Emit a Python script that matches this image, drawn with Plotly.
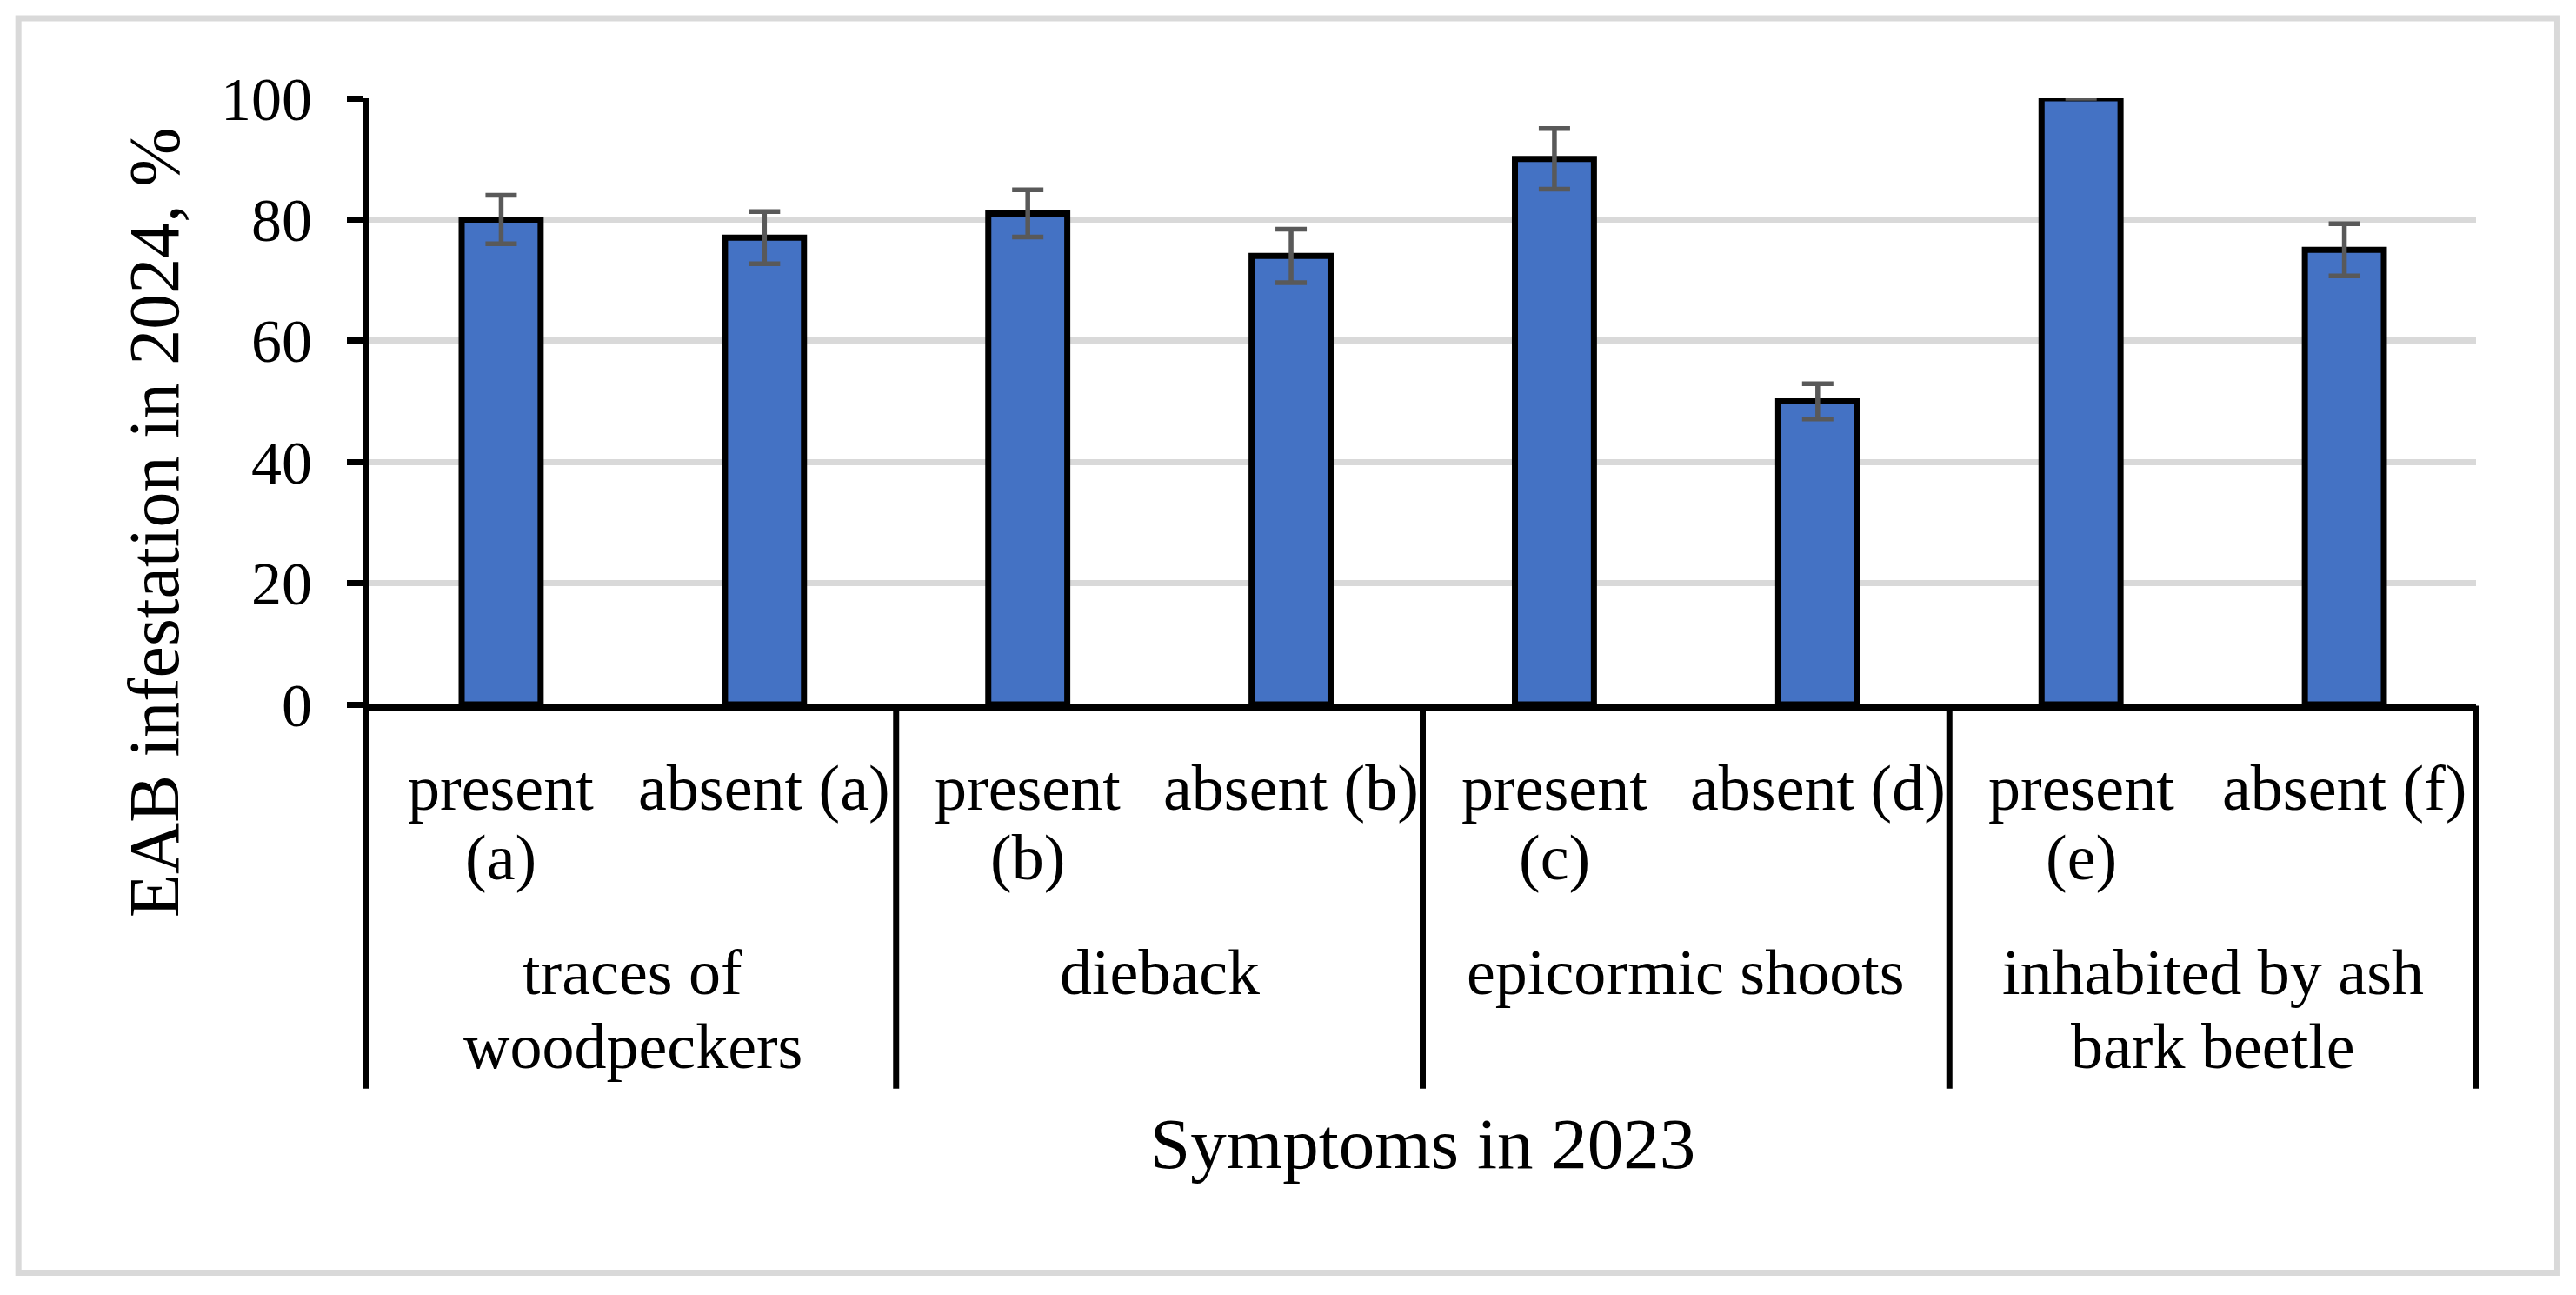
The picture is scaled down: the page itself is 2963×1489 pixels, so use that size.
import plotly.graph_objects as go

# ---------------- data ----------------
categories = ["present (a)", "absent (a)", "present (b)", "absent (b)",
              "present (c)", "absent (d)", "present (e)", "absent (f)"]
tick_labels = ["present<br>(a)", "absent (a)", "present<br>(b)", "absent (b)",
               "present<br>(c)", "absent (d)", "present<br>(e)", "absent (f)"]
groups = ["traces of<br>woodpeckers", "dieback", "epicormic shoots",
          "inhabited by ash<br>bark beetle"]
values = [80, 77, 81, 74, 90, 50, 100, 75]
errors = [4, 4.3, 3.9, 4.4, 5, 2.9, 0, 4.3]
y_ticks = [0, 20, 40, 60, 80, 100]

# ---------------- layout constants ----------------
W, H = 2963, 1489
L, R, T, B = 424.5, 2848.5, 112.5, 810
FONT = "Liberation Serif"
LW = 7


def px_x(X):
    return (X - L) / (R - L)


def px_y(Y):
    return (B - Y) / (B - T)


def mid_from_baseline(yb, fs):
    # centre of the text box for a given baseline (Liberation Serif metrics)
    return yb - 0.3375 * fs


fig = go.Figure()
fig.add_trace(go.Bar(
    x=categories, y=values, width=0.30,
    marker=dict(color="#4472c4", line=dict(color="black", width=LW)),
    error_y=dict(type="data", array=errors, visible=True,
                 color="#595959", thickness=5.5, width=18),
    cliponaxis=False, showlegend=False,
))

shapes = []
n_cat = len(categories)
n_per_group = n_cat // len(groups)
for i in range(len(groups) + 1):
    xp = i * n_per_group / n_cat          # group boundary as a fraction of the axis
    if i == 0:
        xp -= (LW / 2) / (R - L)          # sit under the y-axis line
    shapes.append(dict(type="line", xref="paper", yref="paper",
                       x0=xp, x1=xp, y0=px_y(811.5), y1=px_y(1252),
                       line=dict(color="black", width=LW)))
shapes.append(dict(type="rect", xref="paper", yref="paper",
                   x0=px_x(20.5), x1=px_x(2942), y0=px_y(20.5), y1=px_y(1464),
                   line=dict(color="#d9d9d9", width=LW), layer="below"))

annotations = []
FS_CAT = 74
CAT_BASE = 931
CAT_STEP = 80
for i, lab in enumerate(tick_labels):
    for k, line in enumerate(lab.split("<br>")):
        annotations.append(dict(
            x=i, xref="x", y=px_y(mid_from_baseline(CAT_BASE + k * CAT_STEP, FS_CAT)),
            yref="paper", text=line, showarrow=False,
            xanchor="center", yanchor="middle",
            font=dict(family=FONT, size=FS_CAT, color="black")))

GRP_BASE = 1143
GRP_STEP = 85
for i, g in enumerate(groups):
    for k, line in enumerate(g.split("<br>")):
        annotations.append(dict(
            x=i * n_per_group + (n_per_group - 1) / 2, xref="x",
            y=px_y(mid_from_baseline(GRP_BASE + k * GRP_STEP, FS_CAT)),
            yref="paper", text=line, showarrow=False,
            xanchor="center", yanchor="middle",
            font=dict(family=FONT, size=FS_CAT, color="black")))

FS_TITLE = 83
annotations.append(dict(
    x=px_x((L + R) / 2), xref="paper", y=px_y(mid_from_baseline(1343, FS_TITLE)),
    yref="paper", text="Symptoms in 2023", showarrow=False,
    xanchor="center", yanchor="middle",
    font=dict(family=FONT, size=FS_TITLE, color="black")))
annotations.append(dict(
    x=px_x(204 - 0.3375 * 82), xref="paper", y=px_y(600), yref="paper",
    text="EAB infestation in 2024, %", showarrow=False, textangle=-90,
    xanchor="center", yanchor="middle",
    font=dict(family=FONT, size=82, color="black")))

fig.update_layout(
    width=W, height=H,
    margin=dict(l=L, r=W - R, t=T, b=H - B, autoexpand=False),
    paper_bgcolor="white", plot_bgcolor="white",
    font=dict(family=FONT, size=73, color="black"),
    shapes=shapes, annotations=annotations,
    xaxis=dict(type="category", range=[-0.5, 7.5],
               showticklabels=False, ticks="",
               showline=True, linecolor="black", linewidth=LW,
               showgrid=False),
    yaxis=dict(range=[0, 100], tickmode="array", tickvals=y_ticks,
               ticks="outside", ticklen=19, tickwidth=LW, tickcolor="black",
               showline=True, linecolor="black", linewidth=LW,
               showgrid=True, gridcolor="#d9d9d9", gridwidth=LW,
               zeroline=False, ticklabelstandoff=26,
               tickfont=dict(family=FONT, size=70, color="black")),
)

fig.write_html("out.html", config={"displayModeBar": False},
               post_script="document.body.style.margin='0px';")
